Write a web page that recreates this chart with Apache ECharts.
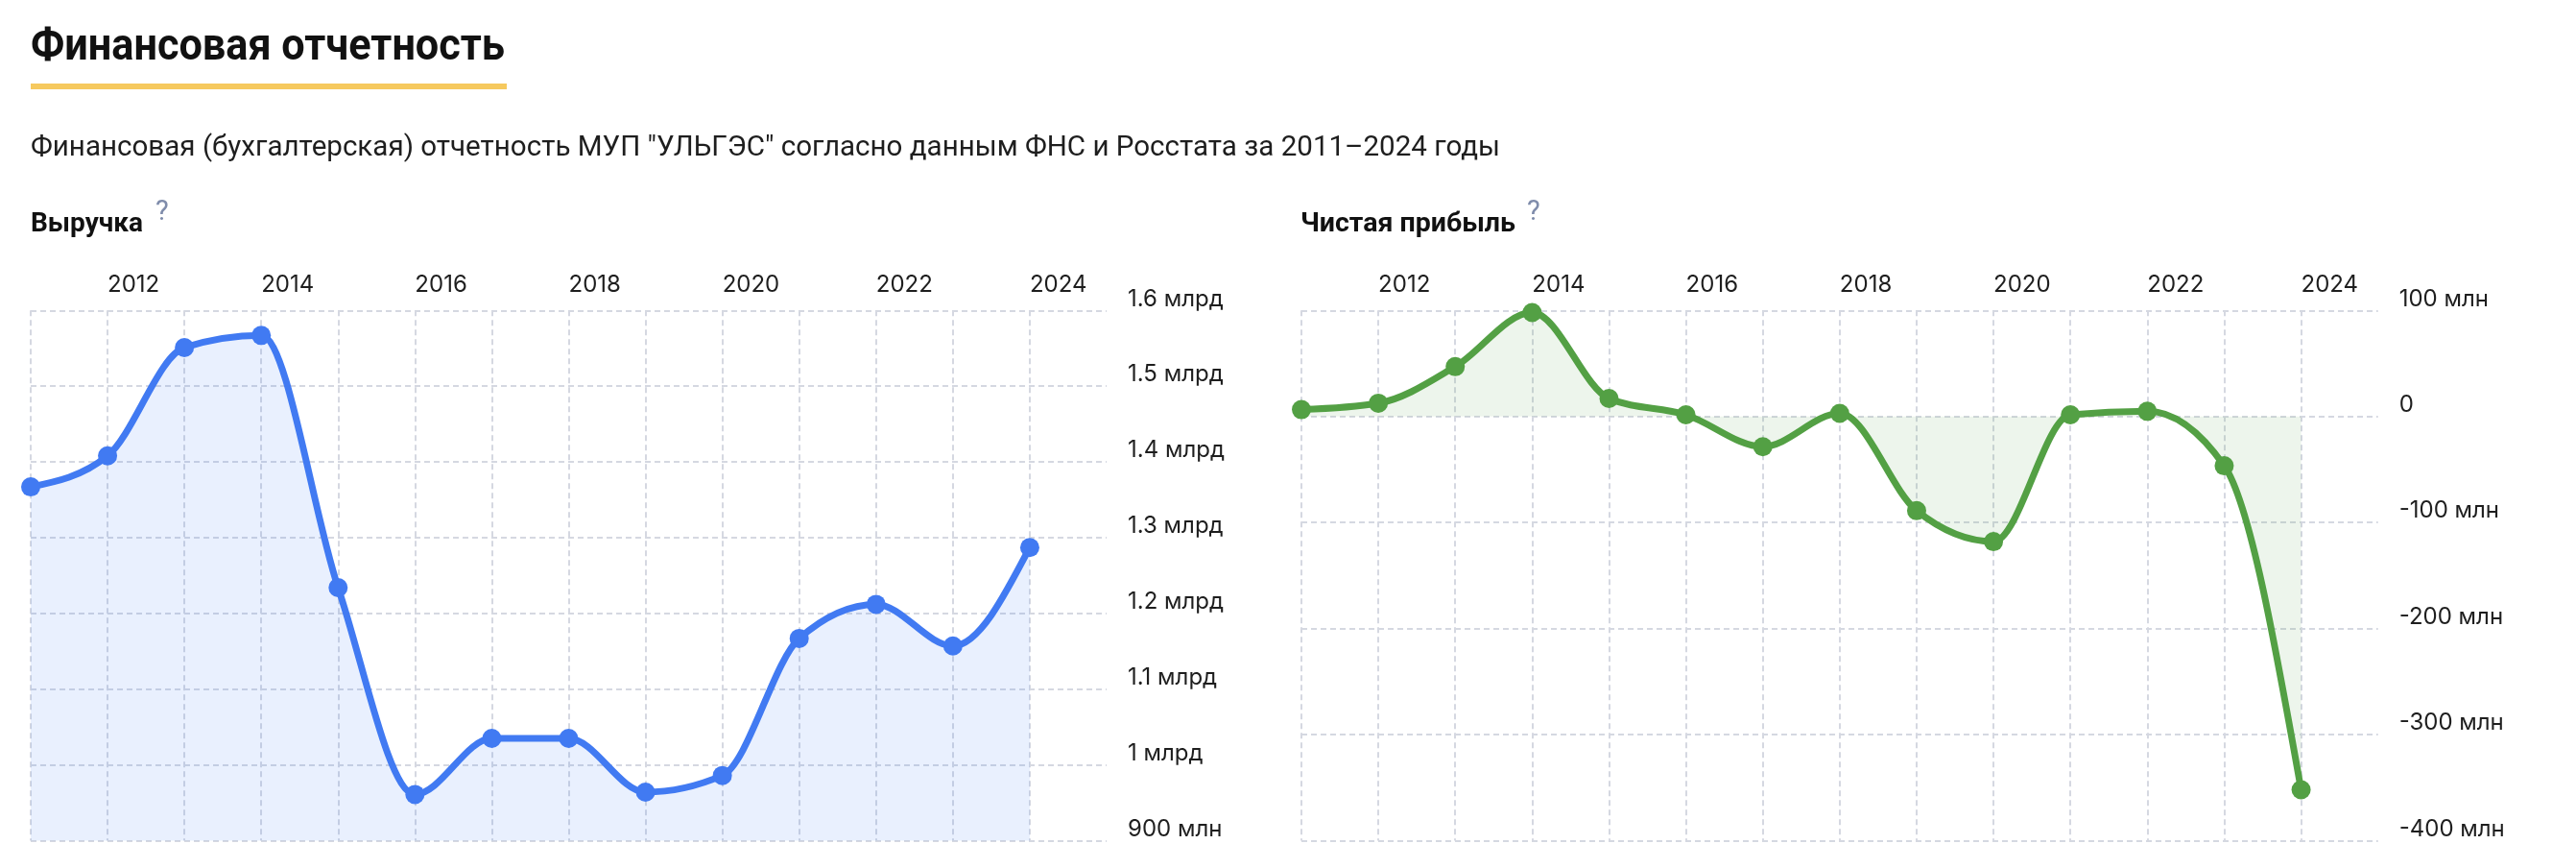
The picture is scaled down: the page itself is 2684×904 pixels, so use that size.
<!DOCTYPE html>
<html>
<head>
<meta charset="utf-8">
<script src="https://cdn.jsdelivr.net/npm/echarts@6/dist/echarts.min.js"></script>
<style>
html,body{margin:0;padding:0;background:#ffffff;}
#chart{width:2684px;height:904px;}
</style>
</head>
<body>
<div id="chart"></div>
<script>
// ---- data ----
const years = [2011, 2012, 2013, 2014, 2015, 2016, 2017, 2018, 2019, 2020, 2021, 2022, 2023, 2024];
const revenueMln = [1367, 1408, 1551, 1567, 1234, 961, 1035, 1035, 964, 986, 1167, 1212, 1157, 1287];
const profitMln = [6.5, 12.5, 47, 98, 17, 1.6, -28.5, 2.9, -88.8, -118, 1.6, 4.9, -46.5, -352];
const yearTickLabels = ['2012', '2014', '2016', '2018', '2020', '2022', '2024'];
const revenueTickValues = [900, 1000, 1100, 1200, 1300, 1400, 1500, 1600];
const revenueTickLabels = ['900 млн', '1 млрд', '1.1 млрд', '1.2 млрд', '1.3 млрд', '1.4 млрд', '1.5 млрд', '1.6 млрд'];
const profitTickValues = [-400, -300, -200, -100, 0, 100];
const profitTickLabels = ['-400 млн', '-300 млн', '-200 млн', '-100 млн', '0', '100 млн'];

const headTitle = 'Финансовая отчетность';
const subTitle = 'Финансовая (бухгалтерская) отчетность МУП "УЛЬГЭС" согласно данным ФНС и Росстата за 2011–2024 годы';
const chartTitles = ['Выручка', 'Чистая прибыль'];

// ---- helpers ----
const measureCtx = document.createElement('canvas').getContext('2d');
function fitScale(text, font, target) {
  measureCtx.font = font;
  const w = measureCtx.measureText(text).width;
  return w > 0 ? target / w : 1;
}

function monotonePath(pts) {
  const n = pts.length, s = [], t = [];
  for (let i = 0; i < n - 1; i++) s[i] = (pts[i + 1][1] - pts[i][1]) / (pts[i + 1][0] - pts[i][0]);
  for (let i = 1; i < n - 1; i++) {
    const h0 = pts[i][0] - pts[i - 1][0], h1 = pts[i + 1][0] - pts[i][0];
    const p = (s[i - 1] * h1 + s[i] * h0) / (h0 + h1);
    t[i] = (Math.sign(s[i - 1]) + Math.sign(s[i])) * Math.min(Math.abs(s[i - 1]), Math.abs(s[i]), 0.5 * Math.abs(p)) || 0;
  }
  t[0] = (3 * s[0] - t[1]) / 2;
  t[n - 1] = (3 * s[n - 2] - t[n - 2]) / 2;
  let d = 'M' + pts[0][0] + ' ' + pts[0][1];
  for (let i = 0; i < n - 1; i++) {
    const dx = (pts[i + 1][0] - pts[i][0]) / 3;
    d += ' C' + (pts[i][0] + dx) + ' ' + (pts[i][1] + dx * t[i]) + ' ' +
         (pts[i + 1][0] - dx) + ' ' + (pts[i + 1][1] - dx * t[i + 1]) + ' ' +
         pts[i + 1][0] + ' ' + pts[i + 1][1];
  }
  return d;
}

function curveRenderer(xs, vs, base, color, fill) {
  return function (params, api) {
    if (params.dataIndex !== 0) return null;
    const pts = xs.map((x, i) => api.coord([x, vs[i]]));
    const d = monotonePath(pts);
    const b = api.coord([xs[0], base])[1];
    const first = pts[0], last = pts[pts.length - 1];
    const area = d + ' L' + last[0] + ' ' + b + ' L' + first[0] + ' ' + b + ' Z';
    return {
      type: 'group',
      children: [
        { type: 'path', shape: { pathData: area }, style: { fill: fill } },
        { type: 'path', shape: { pathData: d }, style: { fill: 'none', stroke: color, lineWidth: 7, lineJoin: 'round', lineCap: 'round' } }
      ]
    };
  };
}

// ---- styles ----
const BLUE = '#417af2';
const BLUE_AREA = 'rgba(65,122,242,0.115)';
const GREEN = '#53a044';
const GREEN_AREA = 'rgba(83,160,68,0.10)';
const GRID_LINE = { type: [6, 4], color: '#d5d8e1', width: 2 };
const TEXT = '#1e1e1e';
const LABEL_FONT = 'Inter';

const titleFont = 'bold 47px Roboto';
const subFont = '30px Roboto';
const headFont = 'bold 28px Roboto';
const helpFont = '29px Roboto';

function xAxisFor(gridIndex) {
  return {
    type: 'value', gridIndex: gridIndex, position: 'top',
    min: years[0], max: years[years.length - 1] + 1, interval: 1,
    axisLine: { show: false }, axisTick: { show: false },
    splitLine: { show: true, showMaxLine: false, lineStyle: GRID_LINE },
    axisLabel: {
      margin: 15, align: 'left', fontSize: 24, fontFamily: LABEL_FONT, color: TEXT,
      formatter: v => { const i = yearTickLabels.indexOf(String(v)); return i >= 0 ? yearTickLabels[i] : ''; }
    }
  };
}
function yAxisFor(gridIndex, vals, labels) {
  return {
    type: 'value', gridIndex: gridIndex, position: 'right',
    min: vals[0], max: vals[vals.length - 1], interval: vals[1] - vals[0],
    axisLine: { show: false }, axisTick: { show: false },
    splitLine: { show: true, lineStyle: GRID_LINE },
    axisLabel: {
      margin: 22, align: 'left', verticalAlign: 'bottom', fontSize: 24, fontFamily: LABEL_FONT, color: TEXT,
      formatter: v => { const i = vals.indexOf(Math.round(v)); return i >= 0 ? labels[i] : ''; }
    }
  };
}

const chart = echarts.init(document.getElementById('chart'), null, { renderer: 'canvas' });
chart.setOption({
  animation: false,
  backgroundColor: '#ffffff',
  grid: [
    { left: 32, right: 1531, top: 323.3, bottom: 28.5 },
    { left: 1356, right: 206.3, top: 323.3, bottom: 28.5 }
  ],
  xAxis: [xAxisFor(0), xAxisFor(1)],
  yAxis: [yAxisFor(0, revenueTickValues, revenueTickLabels), yAxisFor(1, profitTickValues, profitTickLabels)],
  graphic: [
    { type: 'text', x: 32, y: 50, scaleX: fitScale(headTitle, titleFont, 494),
      style: { text: headTitle, font: titleFont, fill: '#111111', align: 'left', verticalAlign: 'middle', textAlign: 'left', textVerticalAlign: 'middle' } },
    { type: 'rect', shape: { x: 32, y: 87, width: 496, height: 6 }, style: { fill: '#f6c95e' } },
    { type: 'text', x: 32, y: 154, scaleX: fitScale(subTitle, subFont, 1531),
      style: { text: subTitle, font: subFont, fill: TEXT, align: 'left', verticalAlign: 'middle', textAlign: 'left', textVerticalAlign: 'middle' } },
    { type: 'text', x: 32, y: 234, scaleX: fitScale(chartTitles[0], headFont, 117),
      style: { text: chartTitles[0], font: headFont, fill: '#111111', align: 'left', verticalAlign: 'middle', textAlign: 'left', textVerticalAlign: 'middle' } },
    { type: 'text', x: 162, y: 222,
      style: { text: '?', font: helpFont, fill: '#7f8cab', align: 'left', verticalAlign: 'middle', textAlign: 'left', textVerticalAlign: 'middle' } },
    { type: 'text', x: 1355, y: 234, scaleX: fitScale(chartTitles[1], headFont, 224),
      style: { text: chartTitles[1], font: headFont, fill: '#111111', align: 'left', verticalAlign: 'middle', textAlign: 'left', textVerticalAlign: 'middle' } },
    { type: 'text', x: 1591, y: 222,
      style: { text: '?', font: helpFont, fill: '#7f8cab', align: 'left', verticalAlign: 'middle', textAlign: 'left', textVerticalAlign: 'middle' } }
  ],
  series: [
    {
      type: 'custom', name: 'Выручка', xAxisIndex: 0, yAxisIndex: 0, clip: false, silent: true, z: 2,
      data: years.map((y, i) => [y, revenueMln[i]]),
      renderItem: curveRenderer(years, revenueMln, revenueTickValues[0], BLUE, BLUE_AREA)
    },
    {
      type: 'scatter', name: 'Выручка', xAxisIndex: 0, yAxisIndex: 0, symbolSize: 20, z: 3, silent: true,
      itemStyle: { color: BLUE, opacity: 1 },
      data: years.map((y, i) => [y, revenueMln[i]])
    },
    {
      type: 'custom', name: 'Чистая прибыль', xAxisIndex: 1, yAxisIndex: 1, clip: false, silent: true, z: 2,
      data: years.map((y, i) => [y, profitMln[i]]),
      renderItem: curveRenderer(years, profitMln, 0, GREEN, GREEN_AREA)
    },
    {
      type: 'scatter', name: 'Чистая прибыль', xAxisIndex: 1, yAxisIndex: 1, symbolSize: 20, z: 3, silent: true,
      itemStyle: { color: GREEN, opacity: 1 },
      data: years.map((y, i) => [y, profitMln[i]])
    }
  ]
});
</script>
</body>
</html>
